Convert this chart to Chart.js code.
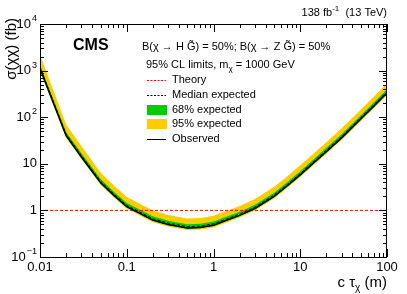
<!DOCTYPE html>
<html><head><meta charset="utf-8">
<script src="https://cdn.jsdelivr.net/npm/chart.js@4.4.1/dist/chart.umd.min.js"></script>
<style>html,body{margin:0;padding:0;background:#fff;}canvas{display:block;}</style>
</head><body>
<canvas id="c" width="407" height="294"></canvas>
<script>
// ---- data ----
const ctau      = [0.01, 0.02, 0.03, 0.05, 0.07, 0.1, 0.2, 0.3, 0.5, 0.7, 1, 2, 3, 5, 7, 10, 20, 30, 50, 70, 100];
const observed  = [1100, 40, 14, 3.9, 2.15, 1.2, 0.62, 0.5, 0.42, 0.43, 0.48, 0.78, 1.1, 2.0, 3.3, 5.8, 18.3, 36, 92, 171, 330];
const expected  = [1180, 43, 15, 4.2, 2.3, 1.28, 0.66, 0.535, 0.45, 0.46, 0.515, 0.83, 1.17, 2.14, 3.53, 6.2, 19.6, 38.5, 99, 183, 353];
const exp68Down = [1060, 38.5, 13.5, 3.75, 2.06, 1.15, 0.595, 0.48, 0.403, 0.413, 0.46, 0.75, 1.06, 1.92, 3.17, 5.57, 17.6, 34.6, 88, 164, 317];
const exp68Up   = [1320, 48, 16.8, 4.7, 2.58, 1.44, 0.745, 0.6, 0.505, 0.515, 0.575, 0.935, 1.32, 2.4, 3.96, 6.96, 22, 43, 110, 205, 396];
const exp95Down = [990, 36, 12.6, 3.5, 1.94, 1.08, 0.56, 0.45, 0.378, 0.387, 0.432, 0.7, 0.99, 1.8, 2.97, 5.2, 16.5, 32.4, 83, 154, 297];
const exp95Up   = [2200, 70, 24, 6.4, 3.5, 1.95, 1.0, 0.8, 0.67, 0.69, 0.77, 1.25, 1.76, 3.2, 5.28, 9.3, 29, 58, 147, 274, 528];
const theoryX   = [0.01, 100];
const theoryY   = [1, 1];
const xTickValues = [0.01, 0.1, 1, 10, 100];
const xTickLabels = ['0.01', '0.1', '1', '10', '100'];
const yTickValues = [0.1, 1, 10, 100, 1000, 10000];
const yTickLabels = [['10','\u22121'], ['1',''], ['10',''], ['10','2'], ['10','3'], ['10','4']];

const pts = (xs, ys) => xs.map((x, i) => ({x: x, y: ys[i]}));
const FONT = '"Liberation Sans", Arial, Helvetica, sans-serif';
const YELLOW = '#ffcc00', GREEN = '#00cc00';

function drawSupText(ctx, x, y, base, sup, size, align) {
  ctx.font = size + 'px ' + FONT;
  const wb = ctx.measureText(base).width;
  ctx.font = (size * 0.7) + 'px ' + FONT;
  const ws = sup ? ctx.measureText(sup).width + 1 : 0;
  let x0 = align === 'right' ? x - wb - ws : (align === 'center' ? x - (wb + ws) / 2 : x);
  ctx.textAlign = 'left';
  ctx.textBaseline = 'middle';
  ctx.font = size + 'px ' + FONT;
  ctx.fillText(base, x0, y);
  if (sup) {
    ctx.font = (size * 0.7) + 'px ' + FONT;
    ctx.fillText(sup, x0 + wb + 1, y - size * 0.42);
  }
}

const decor = {
  id: 'decor',
  afterDatasetsDraw(chart) {
    const ctx = chart.ctx, a = chart.chartArea;
    const xs = chart.scales.x, ys = chart.scales.y;
    ctx.save();
    ctx.strokeStyle = '#000'; ctx.fillStyle = '#000'; ctx.lineWidth = 1;
    // frame
    ctx.strokeRect(Math.round(a.left) + 0.5, Math.round(a.top) + 0.5, Math.round(a.right - a.left) - 1, Math.round(a.bottom - a.top));
    // x ticks (bottom & top)
    ctx.beginPath();
    for (let d = -2; d <= 2; d++) {
      for (let m = 1; m <= 9; m++) {
        const v = m * Math.pow(10, d);
        if (v > 100.0001) continue;
        const px = Math.round(xs.getPixelForValue(v)) + 0.5;
        const len = m === 1 ? 8 : 4;
        ctx.moveTo(px, a.bottom); ctx.lineTo(px, a.bottom - len);
        ctx.moveTo(px, a.top); ctx.lineTo(px, a.top + len);
      }
    }
    // y ticks (left & right)
    for (let d = -1; d <= 4; d++) {
      for (let m = 1; m <= 9; m++) {
        const v = m * Math.pow(10, d);
        if (v > 10000.001) continue;
        const py = Math.round(ys.getPixelForValue(v)) + 0.5;
        const len = m === 1 ? 8 : 4;
        ctx.moveTo(a.left, py); ctx.lineTo(a.left + len, py);
        ctx.moveTo(a.right, py); ctx.lineTo(a.right - len, py);
      }
    }
    ctx.stroke();
    // tick labels
    ctx.fillStyle = '#000';
    xTickValues.forEach((v, i) => {
      drawSupText(ctx, xs.getPixelForValue(v), a.bottom + 10, xTickLabels[i], '', 13, 'center');
    });
    yTickValues.forEach((v, i) => {
      drawSupText(ctx, a.left - 3, ys.getPixelForValue(v), yTickLabels[i][0], yTickLabels[i][1], 13, 'right');
    });
    // x title: c tau_chi (m)
    ctx.textBaseline = 'middle'; ctx.textAlign = 'left';
    ctx.font = '15px ' + FONT;
    const t1 = 'c \u03c4', t3 = ' (m)';
    const w1 = ctx.measureText(t1).width, w3 = ctx.measureText(t3).width;
    ctx.font = '10px ' + FONT; const w2 = ctx.measureText('\u03c7').width;
    let x0 = a.right - (w1 + w2 + w3);
    ctx.font = '15px ' + FONT; ctx.fillText(t1, x0, 283);
    ctx.font = '10px ' + FONT; ctx.fillText('\u03c7', x0 + w1, 288);
    ctx.font = '15px ' + FONT; ctx.fillText(t3, x0 + w1 + w2, 283);
    // y title
    ctx.save();
    ctx.translate(12, a.top - 6);
    ctx.rotate(-Math.PI / 2);
    ctx.textAlign = 'right'; ctx.textBaseline = 'middle';
    ctx.font = '15px ' + FONT;
    ctx.fillText('\u03c3(\u03c7\u03c7) (fb)', 0, 0);
    ctx.restore();
    // top-right label
    ctx.font = '11px ' + FONT;
    const s1 = '138 fb', s3 = '  (13 TeV)';
    const ws1 = ctx.measureText(s1).width, ws3 = ctx.measureText(s3).width;
    ctx.font = '8px ' + FONT; const ws2 = ctx.measureText('-1').width;
    x0 = a.right - (ws1 + ws2 + ws3);
    ctx.textAlign = 'left';
    ctx.font = '11px ' + FONT; ctx.fillText(s1, x0, 13);
    ctx.font = '8px ' + FONT; ctx.fillText('-1', x0 + ws1, 9);
    ctx.font = '11px ' + FONT; ctx.fillText(s3, x0 + ws1 + ws2, 13);
    // CMS
    ctx.font = 'bold 16px ' + FONT;
    ctx.fillText('CMS', 73, 46);
    // legend header
    ctx.font = '11px ' + FONT;
    ctx.fillText('B(\u03c7 \u2192 H G\u0303) = 50%; B(\u03c7 \u2192 Z G\u0303) = 50%', 142, 47);
    const h1 = '95% CL limits, m';
    ctx.fillText(h1, 146, 65);
    const wh1 = ctx.measureText(h1).width;
    ctx.font = '8px ' + FONT; ctx.fillText('\u03c7', 146 + wh1, 69);
    const wchi = ctx.measureText('\u03c7').width;
    ctx.font = '11px ' + FONT; ctx.fillText(' = 1000 GeV', 146 + wh1 + wchi, 65);
    // legend entries
    const lx = 147, tx = 172;
    const rows = [80, 95, 110, 124, 139];
    ctx.lineWidth = 1;
    ctx.setLineDash([2, 1.5]);
    ctx.strokeStyle = '#ff0000';
    ctx.beginPath(); ctx.moveTo(lx, rows[0] + 0.5); ctx.lineTo(lx + 19, rows[0] + 0.5); ctx.stroke();
    ctx.strokeStyle = '#000';
    ctx.beginPath(); ctx.moveTo(lx, rows[1] + 0.5); ctx.lineTo(lx + 19, rows[1] + 0.5); ctx.stroke();
    ctx.setLineDash([]);
    ctx.fillStyle = GREEN; ctx.fillRect(lx, rows[2] - 5, 20, 10);
    ctx.fillStyle = YELLOW; ctx.fillRect(lx, rows[3] - 5, 20, 10);
    ctx.strokeStyle = '#000';
    ctx.beginPath(); ctx.moveTo(lx, rows[4] + 0.5); ctx.lineTo(lx + 19, rows[4] + 0.5); ctx.stroke();
    ctx.fillStyle = '#000';
    ctx.font = '11px ' + FONT;
    ['Theory', 'Median expected', '68% expected', '95% expected', 'Observed'].forEach((t, i) => ctx.fillText(t, tx, rows[i]));
    ctx.restore();
  }
};

new Chart(document.getElementById('c'), {
  type: 'line',
  data: {
    datasets: [
      {label: 'Observed', data: pts(ctau, observed), borderColor: '#000', borderWidth: 1.5, pointRadius: 0, fill: false},
      {label: 'Median expected', data: pts(ctau, expected), borderColor: '#000', borderWidth: 1, borderDash: [3, 2], pointRadius: 0, fill: false},
      {label: 'Theory', data: pts(theoryX, theoryY), borderColor: '#ff0000', borderWidth: 1, borderDash: [3, 2], pointRadius: 0, fill: false},
      {label: '68up', data: pts(ctau, exp68Up), borderWidth: 0, borderColor: 'rgba(0,0,0,0)', backgroundColor: GREEN, pointRadius: 0, fill: '+1'},
      {label: '68down', data: pts(ctau, exp68Down), borderWidth: 0, borderColor: 'rgba(0,0,0,0)', pointRadius: 0, fill: false},
      {label: '95up', data: pts(ctau, exp95Up), borderWidth: 0, borderColor: 'rgba(0,0,0,0)', backgroundColor: YELLOW, pointRadius: 0, fill: '+1'},
      {label: '95down', data: pts(ctau, exp95Down), borderWidth: 0, borderColor: 'rgba(0,0,0,0)', pointRadius: 0, fill: false}
    ]
  },
  options: {
    responsive: false,
    animation: false,
    layout: {padding: {left: 40, right: 20, top: 24, bottom: 37}},
    scales: {
      x: {type: 'logarithmic', min: 0.01, max: 100, display: false},
      y: {type: 'logarithmic', min: 0.1, max: 10000, display: false}
    },
    plugins: {legend: {display: false}, tooltip: {enabled: false}},
    elements: {line: {tension: 0}}
  },
  plugins: [decor]
});
</script>
</body></html>
